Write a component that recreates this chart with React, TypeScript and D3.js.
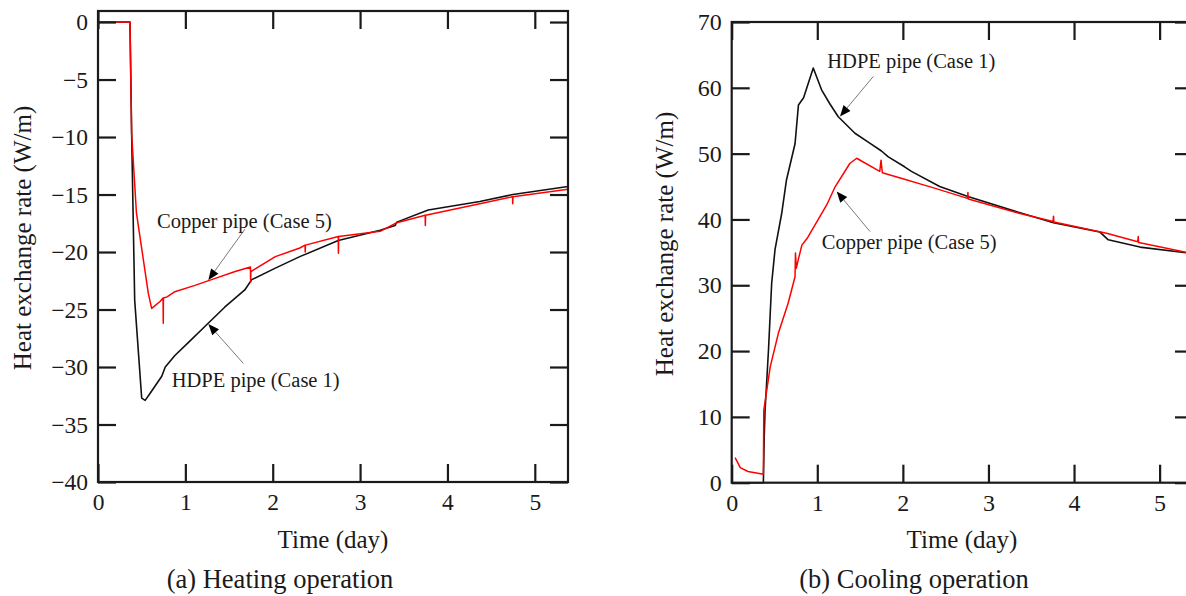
import * as d3 from "d3";
import { useEffect, useRef } from "react";

// ---- data ----
const dayTicks = [0, 1, 2, 3, 4, 5];
const heatingRateTicks = [0, -5, -10, -15, -20, -25, -30, -35, -40];
const coolingRateTicks = [0, 10, 20, 30, 40, 50, 60, 70];

// (a) heating
const heatingHdpeDay = [0, 0.366, 0.385, 0.42, 0.5, 0.54, 0.595, 0.73, 0.77, 0.88, 1.03, 1.22, 1.45, 1.68, 1.76, 2.03, 2.31, 2.75, 3.23, 3.4, 3.42, 3.78, 4.37, 4.75, 5.38];
const heatingHdpeRate = [0, 0, -9.7, -24.2, -32.7, -32.9, -32.3, -30.8, -30.0, -29.0, -27.9, -26.5, -24.8, -23.3, -22.4, -21.4, -20.4, -19.0, -18.1, -17.7, -17.4, -16.35, -15.6, -15.0, -14.3];

const heatingCopperDay = [0, 0.366, 0.385, 0.44, 0.576, 0.614, 0.71, 0.745, 0.747, 0.749, 0.79, 0.88, 1.11, 1.3, 1.57, 1.745, 1.747, 1.75, 2.03, 2.31, 2.37, 2.372, 2.375, 2.75, 2.752, 2.755, 3.23, 3.42, 3.745, 3.747, 3.75, 4.37, 4.745, 4.747, 4.75, 5.38];
const heatingCopperRate = [0, 0, -9.7, -16.6, -23.6, -24.9, -24.3, -24.0, -26.2, -24.0, -23.9, -23.45, -22.9, -22.4, -21.7, -21.3, -22.6, -21.7, -20.4, -19.65, -19.4, -20.0, -19.4, -18.65, -20.1, -18.65, -18.2, -17.45, -16.8, -17.7, -16.8, -15.8, -15.2, -15.8, -15.2, -14.55];

// (b) cooling
const coolingHdpeDay = [0, 0.37, 0.38, 0.39, 0.43, 0.467, 0.506, 0.584, 0.64, 0.74, 0.78, 0.84, 0.953, 1.05, 1.15, 1.245, 1.44, 1.6, 1.75, 1.83, 2.02, 2.1, 2.43, 2.76, 3.37, 3.76, 4.3, 4.4, 4.77, 5.39];
const coolingHdpeRate = [0, 0, 7, 11, 20.2, 30.3, 35.4, 40.9, 46.0, 51.5, 57.4, 58.5, 63.0, 59.7, 57.5, 55.6, 53.1, 51.7, 50.4, 49.5, 48.0, 47.3, 45.0, 43.5, 41.0, 39.5, 38.1, 36.9, 35.8, 34.8];

const coolingCopperDay = [0.04, 0.1, 0.19, 0.37, 0.375, 0.45, 0.545, 0.66, 0.74, 0.745, 0.755, 0.78, 0.82, 0.88, 1.11, 1.21, 1.38, 1.46, 1.73, 1.745, 1.76, 2.02, 2.2, 2.36, 2.755, 2.76, 2.765, 3.37, 3.755, 3.76, 3.765, 4.38, 4.745, 4.75, 4.755, 5.39];
const coolingCopperRate = [3.8, 2.3, 1.7, 1.3, 11.0, 17.6, 22.7, 27.3, 31.3, 34.9, 32.6, 34.0, 36.1, 37.1, 42.2, 45.0, 48.5, 49.3, 47.3, 49.0, 47.1, 46.1, 45.4, 44.8, 43.2, 44.1, 43.1, 40.9, 39.7, 40.5, 39.6, 37.9, 36.6, 37.4, 36.5, 34.8];

const FONT = "'Liberation Serif', 'Times New Roman', Times, serif";
const INK = "#1a1a1a";

const panels = [
  {
    left: 98, right: 568, top: 11, bottom: 482,
    dayMax: 5.38, rateDomain: [-40, 0.96],
    rateTicks: heatingRateTicks,
    hdpe: [heatingHdpeDay, heatingHdpeRate],
    copper: [heatingCopperDay, heatingCopperRate],
    tickFont: 23.5,
    yTitle: { x: 31, y: 238 }, xTitle: { x: 333, y: 548 },
    caption: { x: 280, y: 588, text: "(a) Heating operation" },
    notes: [
      { text: "Copper pipe (Case 5)", at: [0.675, -17.9], tail: [1.683, -18.0], tip: [1.263, -22.43] },
      { text: "HDPE pipe (Case 1)", at: [0.844, -31.74], tail: [1.663, -29.68], tip: [1.263, -26.26] },
    ],
  },
  {
    left: 731.7, right: 1193, top: 22, bottom: 482.7,
    dayMax: 5.39, rateDomain: [0, 70],
    rateTicks: coolingRateTicks,
    hdpe: [coolingHdpeDay, coolingHdpeRate],
    copper: [coolingCopperDay, coolingCopperRate],
    tickFont: 24,
    yTitle: { x: 673, y: 244 }, xTitle: { x: 962, y: 548 },
    caption: { x: 914, y: 588, text: "(b) Cooling operation" },
    notes: [
      { text: "HDPE pipe (Case 1)", at: [1.117, 63.05], tail: [1.655, 61.73], tip: [1.265, 55.65] },
      { text: "Copper pipe (Case 5)", at: [1.052, 35.53], tail: [1.616, 38.16], tip: [1.227, 44.25] },
    ],
  },
];

const styleAxis = (g, fontSize) => {
  g.select(".domain").remove();
  g.selectAll("line").attr("stroke", INK).attr("stroke-width", 2.2);
  g.selectAll("text").attr("fill", INK).style("font-family", FONT).style("font-size", `${fontSize}px`);
};

const drawPanel = (svg, p) => {
  const x = d3.scaleLinear().domain([0, p.dayMax]).range([p.left, p.right]);
  const y = d3.scaleLinear().domain(p.rateDomain).range([p.bottom, p.top]);
  const g = svg.append("g");

  // Lines
  const line = d3.line().x((d) => x(d[0])).y((d) => y(d[1]));
  g.append("path")
    .datum(d3.zip(p.hdpe[0], p.hdpe[1]))
    .attr("d", line)
    .attr("fill", "none")
    .attr("stroke", "#111")
    .attr("stroke-width", 1.6)
    .attr("stroke-linejoin", "round");
  g.append("path")
    .datum(d3.zip(p.copper[0], p.copper[1]))
    .attr("d", line)
    .attr("fill", "none")
    .attr("stroke", "#ff0000")
    .attr("stroke-width", 1.5)
    .attr("stroke-linejoin", "round");

  // Axes (inward ticks on all four sides)
  g.append("g")
    .attr("transform", `translate(0,${p.bottom})`)
    .call(d3.axisBottom(x).tickValues(dayTicks).tickSize(-18).tickSizeOuter(0).tickPadding(11).tickFormat(d3.format("d")))
    .call((a) => styleAxis(a, p.tickFont));
  g.append("g")
    .attr("transform", `translate(0,${p.top})`)
    .call(d3.axisTop(x).tickValues(dayTicks).tickSize(-18).tickSizeOuter(0).tickFormat(() => ""))
    .call((a) => styleAxis(a, p.tickFont));
  g.append("g")
    .attr("transform", `translate(${p.left},0)`)
    .call(d3.axisLeft(y).tickValues(p.rateTicks).tickSize(-18).tickSizeOuter(0).tickPadding(10).tickFormat(d3.format("d")))
    .call((a) => styleAxis(a, p.tickFont));
  g.append("g")
    .attr("transform", `translate(${p.right},0)`)
    .call(d3.axisRight(y).tickValues(p.rateTicks).tickSize(-18).tickSizeOuter(0).tickFormat(() => ""))
    .call((a) => styleAxis(a, p.tickFont));

  // Frame
  g.append("rect")
    .attr("x", p.left)
    .attr("y", p.top)
    .attr("width", p.right - p.left)
    .attr("height", p.bottom - p.top)
    .attr("fill", "none")
    .attr("stroke", INK)
    .attr("stroke-width", 2.2);

  // Annotations
  p.notes.forEach((n) => {
    const [x1, y1] = [x(n.tail[0]), y(n.tail[1])];
    const [x2, y2] = [x(n.tip[0]), y(n.tip[1])];
    const ang = Math.atan2(y2 - y1, x2 - x1);
    const len = 11;
    const hw = 4.5;
    const bx = x2 - len * Math.cos(ang);
    const by = y2 - len * Math.sin(ang);
    g.append("line")
      .attr("x1", x1).attr("y1", y1).attr("x2", bx).attr("y2", by)
      .attr("stroke", "#7a7a7a").attr("stroke-width", 1);
    g.append("path")
      .attr("d", `M${x2},${y2}L${bx - hw * Math.sin(ang)},${by + hw * Math.cos(ang)}L${bx + hw * Math.sin(ang)},${by - hw * Math.cos(ang)}Z`)
      .attr("fill", "#000");
    g.append("text")
      .attr("x", x(n.at[0]))
      .attr("y", y(n.at[1]))
      .attr("fill", INK)
      .style("font-family", FONT)
      .style("font-size", "20.5px")
      .text(n.text);
  });

  // Titles
  g.append("text")
    .attr("transform", `translate(${p.yTitle.x},${p.yTitle.y}) rotate(-90)`)
    .attr("text-anchor", "middle")
    .attr("fill", INK)
    .style("font-family", FONT)
    .style("font-size", "25px")
    .text("Heat exchange rate (W/m)");
  g.append("text")
    .attr("x", p.xTitle.x)
    .attr("y", p.xTitle.y)
    .attr("text-anchor", "middle")
    .attr("fill", INK)
    .style("font-family", FONT)
    .style("font-size", "25px")
    .text("Time (day)");
  g.append("text")
    .attr("x", p.caption.x)
    .attr("y", p.caption.y)
    .attr("text-anchor", "middle")
    .attr("fill", INK)
    .style("font-family", FONT)
    .style("font-size", "26.5px")
    .text(p.caption.text);
};

const App = () => {
  const ref = useRef(null);

  useEffect(() => {
    const svg = d3.select(ref.current);
    svg.selectAll("*").remove();
    panels.forEach((p) => drawPanel(svg, p));
  }, []);

  return (
    <svg
      ref={ref}
      width={1186}
      height={596}
      style={{ position: "absolute", left: 0, top: 0, background: "#fff", display: "block" }}
    />
  );
};

export default App;
